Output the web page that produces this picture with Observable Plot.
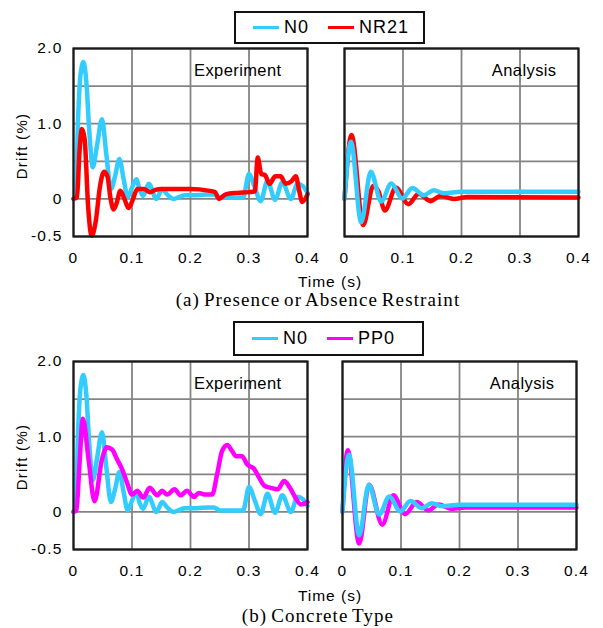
<!DOCTYPE html>
<html>
<head>
<meta charset="utf-8">
<script src="https://cdn.jsdelivr.net/npm/d3@7"></script>
<script src="https://cdn.jsdelivr.net/npm/@observablehq/plot@0.6"></script>
<style>
  html, body { margin: 0; padding: 0; background: #fff; }
  #root { position: relative; width: 603px; height: 628px; overflow: hidden; background: #fff;
          font-family: "Liberation Sans", Arial, sans-serif; color: #000; }
  .legend { position: absolute; box-sizing: border-box; border: 2px solid #111; display: flex;
            align-items: center; padding-left: 17px; font-size: 18px; letter-spacing: 1px; background: #fff; }
  .legend .item { display: flex; align-items: center; margin-right: 19px; }
  .legend .swatch { width: 26px; height: 3px; margin-right: 5px; }
  .lbl { position: absolute; font-size: 15.5px; letter-spacing: 1px; white-space: nowrap; line-height: 18px; }
  .cap { position: absolute; font-family: "Liberation Serif", "Times New Roman", serif; font-size: 19px;
         letter-spacing: 1.1px; word-spacing: -2px; white-space: nowrap; line-height: 22px; }
  .ylab { position: absolute; font-size: 15px; letter-spacing: 1.3px; white-space: nowrap; line-height: 18px;
          transform: translate(-50%, -50%) rotate(-90deg); }
  .panel-label { letter-spacing: 0.4px; }
</style>
</head>
<body>
<div id="root"></div>
<script>
// ---------- data ----------
const xTicks = [0, 0.1, 0.2, 0.3, 0.4];
const yGrid = [-0.5, 0, 0.5, 1, 1.5, 2];
const yTicks = [-0.5, 0, 1, 2];

// Experiment N0
const timeN0Exp  = [0, 0.004, 0.008, 0.012, 0.017, 0.022, 0.027, 0.033, 0.040, 0.0487, 0.056, 0.064, 0.071, 0.0784, 0.086, 0.0926, 0.100, 0.1075, 0.113, 0.119, 0.1286, 0.1418, 0.1515, 0.160, 0.171, 0.190, 0.210, 0.230, 0.240, 0.250, 0.270, 0.290, 0.300, 0.310, 0.320, 0.3315, 0.3446, 0.357, 0.3715, 0.383, 0.392, 0.400];
const driftN0Exp = [0, 0.08, 1.10, 1.65, 1.82, 1.55, 0.90, 0.42, 0.70, 1.06, 0.60, 0.13, 0.30, 0.53, 0.25, 0.02, 0.15, 0.26, 0.12, 0.04, 0.20, 0.00, 0.13, 0.06, 0.00, 0.05, 0.05, 0.06, 0.06, 0.02, 0.02, 0.02, 0.33, 0.15, -0.03, 0.24, -0.01, 0.22, 0.00, 0.20, 0.17, 0.08];

// Experiment NR21
const timeNR21Exp  = [0, 0.006, 0.010, 0.0144, 0.019, 0.025, 0.031, 0.038, 0.045, 0.052, 0.058, 0.063, 0.0686, 0.074, 0.080, 0.087, 0.094, 0.101, 0.109, 0.120, 0.131, 0.140, 0.150, 0.170, 0.200, 0.230, 0.242, 0.2486, 0.260, 0.280, 0.300, 0.310, 0.315, 0.321, 0.327, 0.335, 0.345, 0.354, 0.363, 0.372, 0.380, 0.386, 0.391, 0.400];
const driftNR21Exp = [0, 0.02, 0.60, 0.93, 0.80, -0.10, -0.49, -0.30, 0.15, 0.36, 0.30, 0.02, -0.14, -0.05, 0.107, 0.00, -0.12, -0.02, 0.13, 0.13, 0.09, 0.12, 0.13, 0.13, 0.13, 0.11, 0.09, 0.00, 0.06, 0.08, 0.09, 0.10, 0.55, 0.33, 0.32, 0.20, 0.30, 0.30, 0.20, 0.23, 0.30, 0.10, -0.04, 0.06];

// Experiment PP0
const timePP0Exp  = [0, 0.005, 0.010, 0.016, 0.0257, 0.036, 0.0487, 0.057, 0.066, 0.0744, 0.083, 0.0915, 0.100, 0.109, 0.119, 0.1303, 0.143, 0.1515, 0.160, 0.1728, 0.183, 0.194, 0.206, 0.214, 0.226, 0.237, 0.246, 0.254, 0.263, 0.271, 0.278, 0.288, 0.297, 0.309, 0.317, 0.326, 0.337, 0.349, 0.360, 0.370, 0.380, 0.3887, 0.400];
const driftPP0Exp = [0, 0.02, 0.60, 1.24, 0.70, 0.14, 0.70, 0.86, 0.83, 0.70, 0.57, 0.39, 0.23, 0.28, 0.19, 0.32, 0.22, 0.28, 0.23, 0.30, 0.22, 0.28, 0.20, 0.25, 0.23, 0.23, 0.52, 0.81, 0.89, 0.81, 0.74, 0.74, 0.63, 0.57, 0.46, 0.35, 0.32, 0.30, 0.41, 0.32, 0.18, 0.10, 0.13];

// Analysis N0
const timeN0Ana  = [0, 0.011, 0.0285, 0.045, 0.0627, 0.080, 0.0987, 0.116, 0.1355, 0.1525, 0.170, 0.200, 0.400];
const driftN0Ana = [0, 0.76, -0.31, 0.36, -0.035, 0.205, 0.005, 0.145, 0.05, 0.115, 0.075, 0.095, 0.095];

// Analysis NR21
const timeNR21Ana  = [0, 0.012, 0.032, 0.049, 0.058, 0.069, 0.088, 0.109, 0.127, 0.147, 0.164, 0.187, 0.210, 0.400];
const driftNR21Ana = [0, 0.85, -0.35, 0.17, 0.10, -0.155, 0.15, -0.07, 0.07, -0.03, 0.04, 0.00, 0.025, 0.02];

// Analysis PP0
const timePP0Ana  = [0, 0.009, 0.0285, 0.0455, 0.068, 0.087, 0.107, 0.127, 0.147, 0.164, 0.187, 0.210, 0.400];
const driftPP0Ana = [0, 0.82, -0.42, 0.36, -0.17, 0.22, -0.03, 0.13, 0.02, 0.10, 0.04, 0.06, 0.06];

const colorN0 = "#33ccff", colorNR21 = "#ff0000", colorPP0 = "#ff00ff";

// ---------- helpers ----------
const zip = (t, v) => t.map((d, i) => ({t: d, v: v[i]}));
const fmtX = d => d === 0 ? "0" : String(d);
const fmtY = d => d === 0 ? "0" : d.toFixed(1);
const root = document.getElementById("root");

function panel({series, label, showY, left, top}) {
  const marginLeft = showY ? 73 : 10;
  const width = marginLeft + 234 + 16;
  const svg = Plot.plot({
    width, height: 230,
    marginTop: 8, marginBottom: 34, marginLeft, marginRight: 16,
    x: {domain: [0, 0.4], axis: null},
    y: {domain: [-0.5, 2], axis: null},
    style: {fontFamily: '"Liberation Sans", Arial, sans-serif', fontSize: "15.5px", letterSpacing: "1.2px",
            color: "#000", background: "transparent", overflow: "visible"},
    marks: [
      Plot.gridX(xTicks, {stroke: "#848484", strokeOpacity: 1, strokeWidth: 1.8}),
      Plot.gridY(yGrid, {stroke: "#848484", strokeOpacity: 1, strokeWidth: 1.8}),
      ...series.map(s => Plot.line(zip(s.t, s.v), {x: "t", y: "v", stroke: s.color, strokeWidth: 4.5,
                                                   curve: "monotone-x", strokeLinejoin: "round"})),
      Plot.frame({stroke: "#1a1a1a", strokeWidth: 2.2}),
      Plot.axisX(xTicks, {tickSize: 0, tickPadding: 15, tickFormat: fmtX, label: null}),
      showY ? Plot.axisY(yTicks, {tickSize: 0, tickPadding: 11, tickFormat: fmtY, label: null}) : null,
      Plot.text([label], {frameAnchor: "top-right", dx: showY ? -26 : -22, dy: 22, lineAnchor: "middle",
                          fontSize: 16.5, fill: "#000", className: "panel-label"})
    ]
  });
  svg.style.position = "absolute";
  svg.style.left = left + "px";
  svg.style.top = top + "px";
  svg.querySelectorAll(".panel-label").forEach(g => g.style.letterSpacing = "0.4px");
  root.appendChild(svg);
}

function legend(items, box) {
  const div = document.createElement("div");
  div.className = "legend";
  Object.assign(div.style, {left: box.left + "px", top: box.top + "px", width: box.width + "px", height: box.height + "px"});
  for (const it of items) {
    const item = document.createElement("div");
    item.className = "item";
    const sw = document.createElement("span");
    sw.className = "swatch";
    sw.style.background = it.color;
    const tx = document.createElement("span");
    tx.textContent = it.name;
    item.appendChild(sw); item.appendChild(tx);
    div.appendChild(item);
  }
  root.appendChild(div);
}

function text(cls, str, x, y) {
  const d = document.createElement("div");
  d.className = cls;
  d.textContent = str;
  d.style.left = x + "px";
  d.style.top = y + "px";
  if (cls !== "ylab") d.style.transform = "translate(-50%, -50%)";
  root.appendChild(d);
}

// ---------- row (a) ----------
legend([{name: "N0", color: colorN0}, {name: "NR21", color: colorNR21}], {left: 234, top: 11, width: 191, height: 33});
panel({series: [{t: timeN0Exp, v: driftN0Exp, color: colorN0}, {t: timeNR21Exp, v: driftNR21Exp, color: colorNR21}],
       label: "Experiment", showY: true, left: 0, top: 40});
panel({series: [{t: timeNR21Ana, v: driftNR21Ana, color: colorNR21}, {t: timeN0Ana, v: driftN0Ana, color: colorN0}],
       label: "Analysis", showY: false, left: 334, top: 40});
text("ylab", "Drift (%)", 22, 146);
text("lbl", "Time (s)", 330, 282);
text("cap", "(a) Presence or Absence Restraint", 318, 300);

// ---------- row (b) ----------
legend([{name: "N0", color: colorN0}, {name: "PP0", color: colorPP0}], {left: 233, top: 321, width: 191, height: 35});
panel({series: [{t: timeN0Exp, v: driftN0Exp, color: colorN0}, {t: timePP0Exp, v: driftPP0Exp, color: colorPP0}],
       label: "Experiment", showY: true, left: 0, top: 353});
panel({series: [{t: timePP0Ana, v: driftPP0Ana, color: colorPP0}, {t: timeN0Ana, v: driftN0Ana, color: colorN0}],
       label: "Analysis", showY: false, left: 332, top: 353});
text("ylab", "Drift (%)", 22, 457);
text("lbl", "Time (s)", 330, 596);
text("cap", "(b) Concrete Type", 318, 616);
</script>
</body>
</html>
